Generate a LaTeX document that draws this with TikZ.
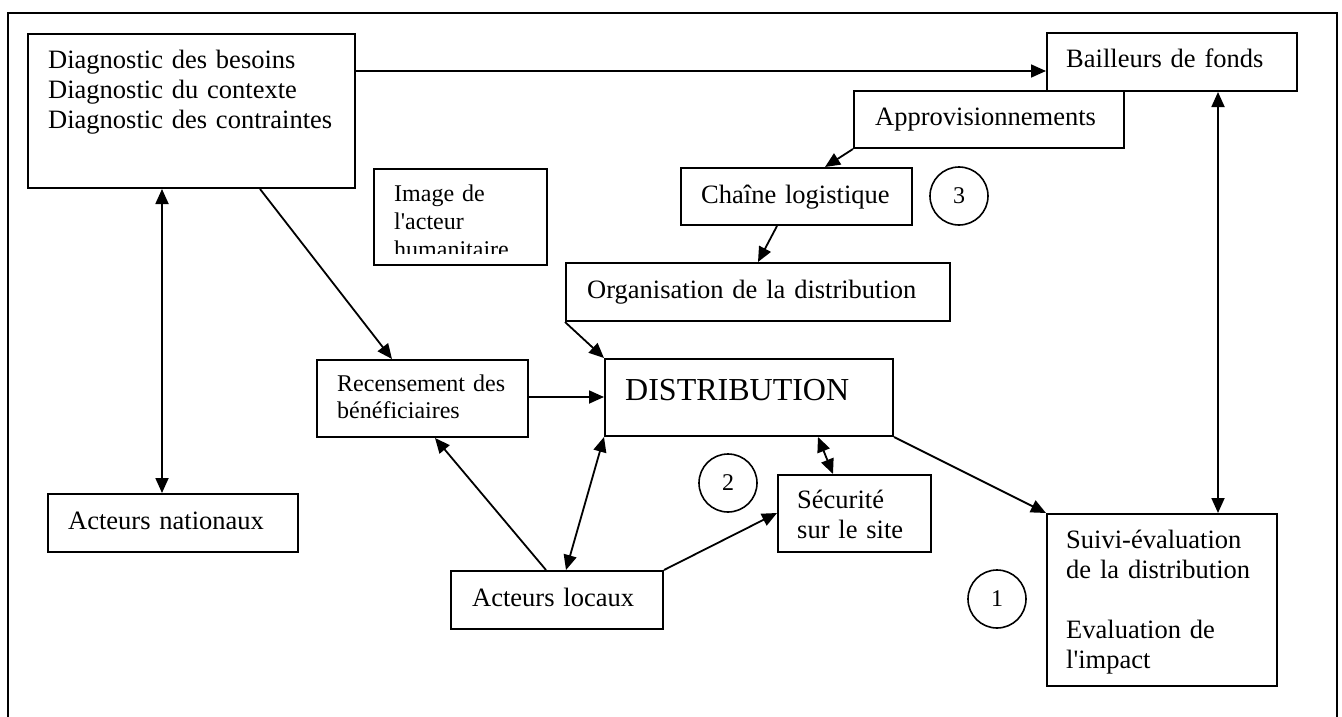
\documentclass[tikz,border=0pt]{standalone}
\usepackage{fontspec}
\setmainfont{Liberation Serif}[Ligatures=TeXOff]
\usetikzlibrary{arrows.meta,calc}
\begin{document}
\begin{tikzpicture}[x=1pt,y=-1pt,
  box/.style={draw, line width=2pt, anchor=north west, inner sep=0pt},
  txt/.style={anchor=base west, inner sep=0pt, align=left, text width=#1,
    font=\fontsize{26.5}{30}\selectfont},
  small/.style={font=\fontsize{24}{27}\selectfont},
  circ/.style={draw, circle, line width=1.6pt, minimum size=58pt, inner sep=0pt,
    font=\fontsize{24}{24}\selectfont},
  arr/.style={line width=1.8pt, -{Triangle[length=15pt,width=13pt]}},
  darr/.style={line width=1.8pt, {Triangle[length=15pt,width=13pt]}-{Triangle[length=15pt,width=13pt]}}]
\useasboundingbox (0,0) rectangle (1342,717);
% outer frame
\draw[line width=2.2pt] (8,717) -- (8,13) -- (1337,13) -- (1337,717);

% boxes
\node[box, minimum width=327pt, minimum height=154pt] (diag) at (27,33) {};
\node[box, minimum width=250pt, minimum height=58pt] (bail) at (1046,32) {};
\node[box, minimum width=270pt, minimum height=57pt] (approv) at (853,90) {};
\node[box, minimum width=231pt, minimum height=57pt] (chaine) at (680,167) {};
\node[box, minimum width=173pt, minimum height=96pt] (img) at (373,168) {};
\node[box, minimum width=384pt, minimum height=58pt] (orga) at (565,262) {};
\node[box, minimum width=211pt, minimum height=77pt] (recens) at (316,359) {};
\node[box, minimum width=288pt, minimum height=77pt] (distrib) at (604,358) {};
\node[box, minimum width=153pt, minimum height=77pt] (secu) at (777,474) {};
\node[box, minimum width=250pt, minimum height=58pt] (nation) at (47,493) {};
\node[box, minimum width=212pt, minimum height=58pt] (locaux) at (450,570) {};
\node[box, minimum width=230pt, minimum height=172pt] (suivi) at (1046,513) {};

% circles
\node[circ] (c3) at (959,196) {3};
\node[circ] (c2) at (728,483) {2};
\node[circ] (c1) at (997,599) {1};

% texts
\node[txt=320pt] (diagT) at (48,69) {Diagnostic des besoins\\Diagnostic du contexte\\Diagnostic des contraintes};
\node[txt=240pt] (bailT) at (1066,68) {Bailleurs de fonds};
\node[txt=260pt] (approvT) at (875,125) {Approvisionnements};
\node[txt=220pt] (chaineT) at (701,203) {Chaîne logistique};
\begin{scope}
  \clip (373,168) rectangle (546,253);
  \node[txt=160pt, font=\fontsize{24}{28}\selectfont] (imgT) at (394,201) {Image de\\l'acteur\\humanitaire};
\end{scope}
\node[txt=370pt] (orgaT) at (587,298) {Organisation de la distribution};
\node[txt=200pt, small] (recensT) at (337,391) {Recensement des\\bénéficiaires};
\node[txt=280pt, font=\fontsize{32}{36}\selectfont] (distribT) at (625,400) {DISTRIBUTION};
\node[txt=140pt] (secuT) at (797,508) {Sécurité\\sur le site};
\node[txt=240pt] (nationT) at (68,529) {Acteurs nationaux};
\node[txt=200pt] (locauxT) at (472,606) {Acteurs locaux};
\node[txt=220pt] (suiviT) at (1066,548) {Suivi-évaluation\\de la distribution\\[30pt]Evaluation de\\l'impact};

% connectors
\draw[arr] ($(diag.north east)+(0,38)$) -- ($(bail.north west)+(0,39)$);
\draw[darr] ($(diag.south west)+(135,0)$) -- ($(nation.north west)+(115,0)$);
\draw[arr] ($(diag.south west)+(233,0)$) -- ($(recens.north west)+(76,0)$);
\draw[arr] (approv.south west) -- ($(chaine.north west)+(145,0)$);
\draw[arr] ($(chaine.south west)+(97,0)$) -- ($(orga.north west)+(193,0)$);
\draw[arr] (orga.south west) -- (distrib.north west);
\draw[arr] ($(recens.north east)+(0,38)$) -- ($(distrib.north west)+(0,39)$);
\draw[arr] ($(locaux.north west)+(96,0)$) -- ($(recens.south west)+(119,0)$);
\draw[darr] ($(locaux.north west)+(116,0)$) -- (distrib.south west);
\draw[arr] (locaux.north east) -- ($(secu.north west)+(0,39)$);
\draw[darr] ($(distrib.south west)+(214,0)$) -- ($(secu.north west)+(56,0)$);
\draw[arr] (distrib.south east) -- (suivi.north west);
\draw[darr] ($(bail.south west)+(172,0)$) -- ($(suivi.north west)+(172,0)$);
\end{tikzpicture}
\end{document}
